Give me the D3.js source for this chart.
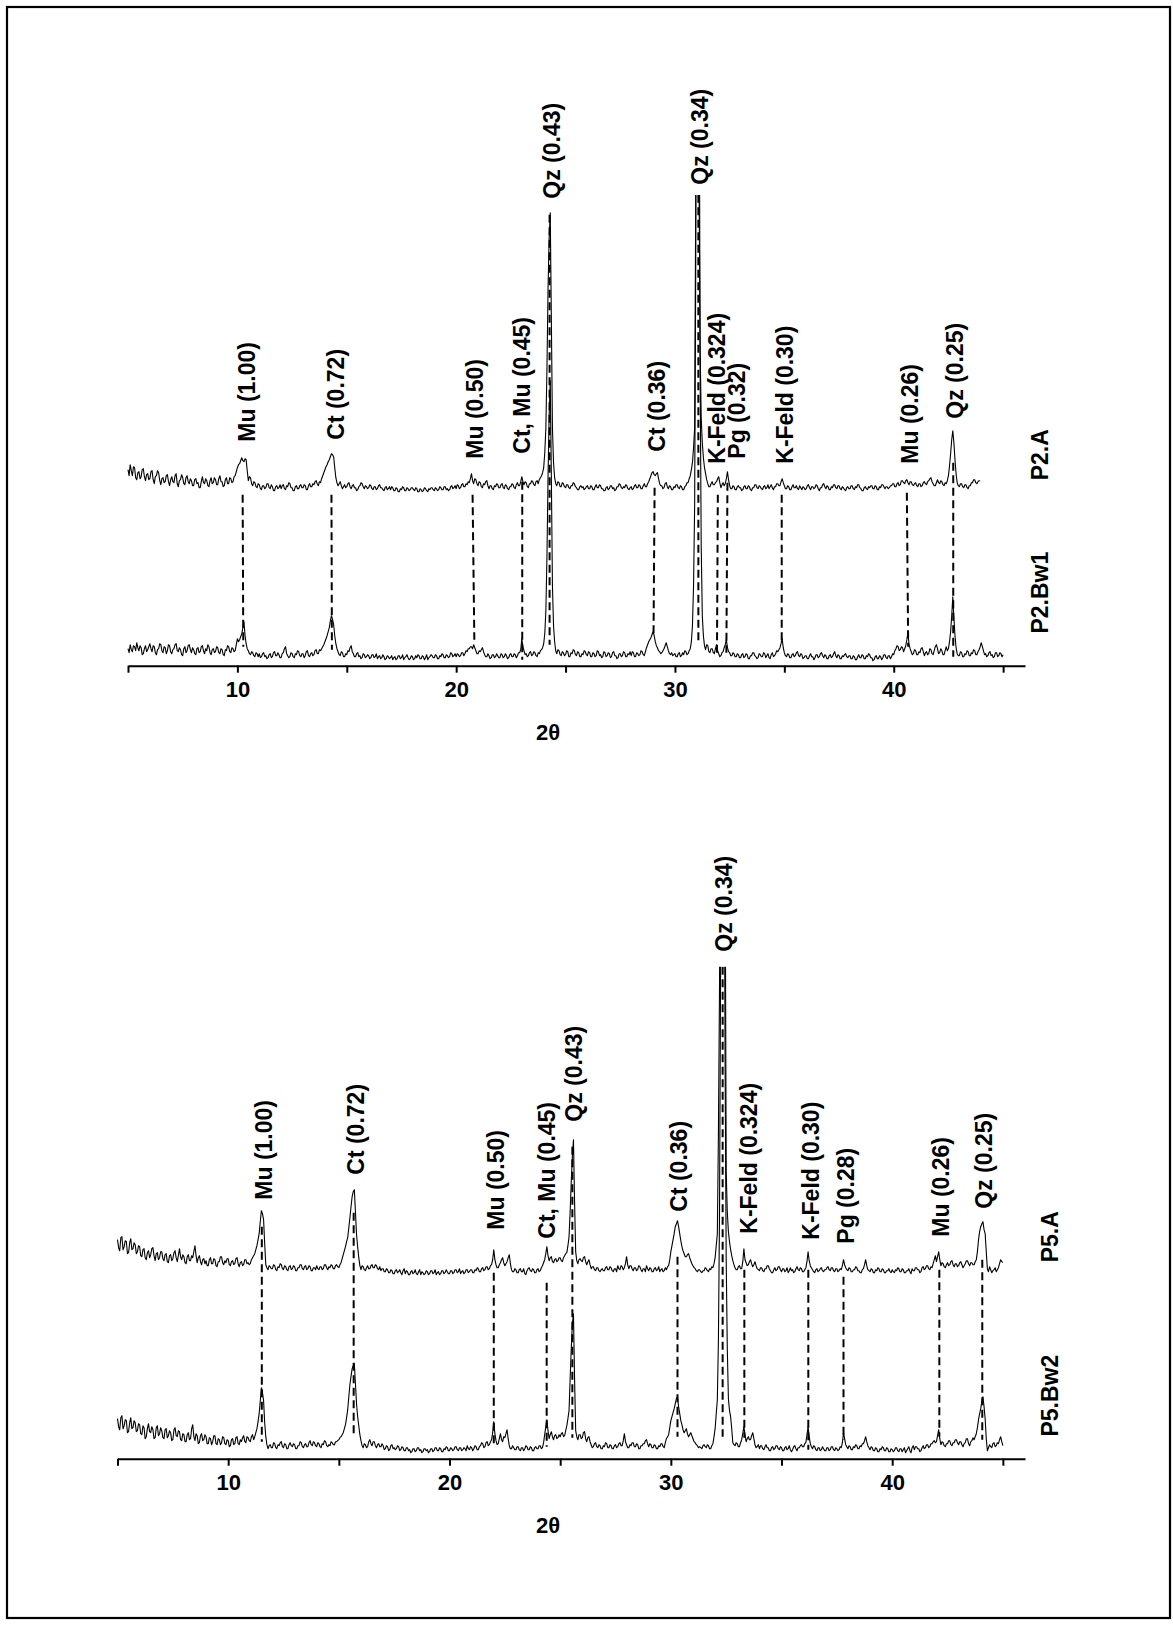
<!DOCTYPE html>
<html>
<head>
<meta charset="utf-8">
<script src="https://cdn.jsdelivr.net/npm/d3@7"></script>
<style>
  html, body { margin: 0; padding: 0; background: #fff; }
  svg text { font-family: "Liberation Sans", Arial, Helvetica, sans-serif; font-weight: bold; fill: #000; }
</style>
</head>
<body>
<svg id="chart" width="1173" height="1625"></svg>
<script>
// Diffractograms: each inner list covers one degree of 2θ (from 5°),
// sampled every 0.05°; the last single value sits on 45.0°.
const twoThetaStart = 5;

// Profile P2 – horizon A (5.00° … 43.95°)
const p2A = [
  [28, 22, 33, 27, 22, 31, 30, 20, 18, 25, 26, 19, 21, 28, 29, 21, 17, 23, 24, 18],
  [19, 26, 27, 18, 14, 21, 22, 27, 25, 17, 13, 19, 20, 15, 16, 22, 23, 16, 12, 18],
  [21, 16, 15, 22, 24, 14, 11, 17, 18, 23, 20, 14, 13, 20, 22, 16, 14, 19, 17, 12],
  [12, 18, 19, 14, 15, 10, 10, 16, 21, 15, 14, 19, 17, 12, 11, 17, 20, 14, 15, 20],
  [18, 13, 13, 19, 22, 16, 16, 11, 12, 18, 20, 14, 14, 20, 19, 15, 16, 21, 22, 26],
  [30, 33, 34, 37, 40, 37, 36, 39, 38, 27, 17, 21, 20, 14, 12, 16, 15, 11, 10, 14],
  [13, 9, 8, 12, 12, 9, 10, 14, 14, 10, 9, 13, 11, 7, 7, 11, 12, 9, 10, 13],
  [9, 12, 13, 9, 8, 12, 11, 15, 14, 10, 10, 7, 7, 11, 12, 9, 9, 12, 13, 10],
  [10, 13, 12, 8, 8, 12, 14, 11, 11, 14, 13, 16, 17, 14, 12, 16, 15, 19, 22, 25],
  [28, 31, 33, 36, 38, 41, 44, 43, 41, 30, 20, 15, 12, 14, 16, 12, 9, 11, 13, 10],
  [11, 14, 15, 11, 9, 12, 13, 10, 10, 7, 8, 11, 12, 15, 14, 11, 9, 12, 11, 9],
  [10, 13, 12, 9, 8, 11, 11, 8, 9, 12, 13, 10, 10, 8, 7, 10, 11, 8, 9, 11],
  [8, 11, 10, 7, 7, 10, 9, 6, 6, 9, 8, 11, 10, 7, 7, 10, 9, 7, 8, 10],
  [10, 8, 7, 10, 9, 6, 6, 9, 8, 6, 7, 10, 9, 7, 6, 9, 8, 10, 10, 8],
  [7, 10, 9, 7, 8, 11, 10, 8, 8, 11, 11, 8, 9, 7, 8, 11, 12, 9, 10, 12],
  [9, 13, 12, 9, 10, 13, 14, 11, 11, 14, 13, 16, 15, 19, 24, 17, 14, 19, 18, 14],
  [12, 16, 15, 11, 10, 14, 13, 16, 17, 12, 9, 12, 12, 9, 8, 12, 11, 14, 13, 10],
  [10, 13, 14, 10, 9, 13, 12, 9, 8, 11, 11, 14, 13, 10, 9, 13, 15, 12, 12, 16],
  [21, 16, 13, 16, 15, 11, 10, 14, 14, 17, 16, 13, 12, 16, 17, 14, 18, 20, 22, 25],
  [30, 45, 70, 130, 210, 260, 285, 180, 70, 35, 20, 14, 12, 16, 15, 11, 11, 15, 14, 11],
  [10, 13, 13, 10, 9, 12, 12, 15, 14, 11, 10, 8, 8, 11, 12, 10, 11, 8, 9, 11],
  [12, 9, 9, 12, 11, 8, 8, 11, 13, 10, 10, 13, 12, 9, 9, 7, 7, 10, 11, 8],
  [9, 12, 12, 9, 10, 7, 8, 11, 11, 14, 13, 10, 9, 11, 10, 13, 12, 9, 8, 10],
  [11, 8, 9, 12, 13, 10, 10, 13, 12, 9, 9, 12, 14, 11, 11, 14, 16, 19, 22, 25],
  [26, 23, 22, 24, 25, 19, 14, 12, 12, 9, 10, 14, 15, 11, 9, 12, 11, 8, 8, 11],
  [10, 13, 13, 10, 9, 12, 11, 8, 8, 11, 12, 15, 15, 19, 22, 28, 35, 50, 70, 300],
  [900, 650, 320, 150, 80, 55, 40, 30, 24, 18, 14, 11, 11, 14, 16, 13, 13, 15, 16, 19],
  [21, 15, 10, 13, 15, 12, 14, 19, 26, 18, 12, 9, 9, 12, 11, 8, 8, 11, 12, 10],
  [10, 7, 8, 11, 12, 9, 9, 12, 11, 8, 7, 10, 10, 13, 13, 10, 9, 12, 11, 9],
  [8, 11, 12, 9, 10, 13, 9, 11, 13, 10, 8, 11, 11, 14, 14, 12, 12, 16, 19, 15],
  [12, 9, 9, 12, 11, 8, 8, 11, 13, 10, 10, 12, 9, 8, 12, 10, 8, 11, 10, 8],
  [9, 12, 13, 10, 8, 11, 11, 9, 10, 13, 12, 9, 7, 10, 10, 13, 14, 11, 9, 12],
  [11, 8, 8, 11, 10, 13, 13, 10, 9, 12, 12, 9, 8, 11, 10, 8, 7, 10, 11, 9],
  [9, 12, 12, 9, 8, 11, 10, 13, 13, 10, 9, 7, 7, 10, 11, 9, 8, 11, 10, 12],
  [12, 9, 9, 12, 11, 8, 8, 11, 10, 13, 13, 11, 9, 11, 11, 9, 10, 12, 12, 14],
  [14, 11, 11, 14, 15, 12, 13, 17, 17, 15, 14, 17, 18, 15, 13, 16, 16, 13, 12, 14],
  [15, 12, 11, 14, 14, 11, 12, 15, 16, 14, 13, 16, 17, 19, 20, 16, 14, 12, 12, 15],
  [18, 15, 14, 17, 16, 13, 12, 15, 14, 17, 22, 32, 44, 58, 67, 55, 38, 24, 15, 12],
  [11, 14, 14, 11, 10, 13, 13, 10, 9, 12, 12, 15, 15, 18, 18, 15, 14, 16, 17, 17]
];

// Profile P2 – horizon Bw1 (5.00° … 45.00°)
const p2Bw1 = [
  [17, 13, 21, 16, 14, 20, 19, 15, 23, 18, 15, 20, 18, 11, 12, 17, 20, 14, 16, 19],
  [22, 17, 14, 20, 19, 13, 11, 16, 17, 22, 21, 15, 13, 19, 18, 12, 15, 21, 20, 14],
  [12, 16, 17, 21, 22, 15, 14, 18, 16, 11, 10, 17, 19, 13, 15, 20, 21, 16, 13, 18],
  [16, 12, 11, 17, 18, 13, 14, 19, 20, 15, 12, 17, 15, 21, 19, 13, 11, 16, 17, 13],
  [14, 19, 18, 13, 12, 17, 16, 11, 10, 16, 15, 20, 19, 14, 13, 18, 17, 14, 15, 21],
  [27, 24, 26, 29, 32, 38, 44, 30, 22, 17, 15, 12, 11, 14, 13, 10, 9, 13, 12, 9],
  [12, 8, 9, 12, 13, 9, 10, 7, 8, 11, 12, 8, 9, 13, 14, 10, 10, 13, 11, 8],
  [8, 12, 13, 17, 19, 12, 10, 8, 9, 13, 12, 9, 8, 12, 11, 15, 14, 10, 9, 12],
  [12, 8, 10, 14, 15, 10, 9, 12, 13, 10, 11, 15, 16, 12, 12, 16, 15, 17, 19, 21],
  [24, 27, 30, 34, 38, 45, 50, 46, 41, 30, 22, 17, 14, 11, 10, 14, 13, 9, 9, 12],
  [11, 15, 14, 18, 20, 14, 12, 9, 9, 12, 13, 9, 10, 7, 8, 12, 11, 8, 9, 11],
  [10, 7, 8, 11, 11, 8, 9, 12, 7, 9, 10, 7, 8, 11, 9, 6, 7, 10, 9, 7],
  [8, 10, 6, 8, 9, 6, 7, 10, 10, 7, 8, 11, 6, 8, 9, 11, 8, 6, 7, 10],
  [9, 6, 7, 10, 8, 11, 10, 7, 7, 10, 9, 6, 8, 11, 6, 8, 9, 11, 10, 8],
  [8, 11, 10, 7, 7, 10, 9, 12, 11, 8, 8, 11, 10, 8, 9, 13, 12, 9, 10, 12],
  [9, 12, 11, 9, 10, 13, 13, 10, 12, 15, 14, 17, 17, 19, 19, 17, 21, 18, 15, 12],
  [12, 15, 14, 16, 18, 14, 11, 9, 9, 12, 10, 7, 8, 11, 11, 8, 9, 12, 10, 8],
  [8, 12, 11, 8, 9, 12, 10, 7, 8, 11, 12, 9, 9, 12, 11, 8, 10, 13, 13, 16],
  [27, 19, 15, 11, 12, 9, 10, 13, 14, 10, 11, 14, 13, 10, 9, 13, 12, 15, 16, 18],
  [22, 32, 55, 110, 190, 250, 285, 190, 80, 40, 24, 15, 12, 16, 15, 11, 10, 14, 13, 10],
  [11, 15, 14, 9, 9, 13, 12, 16, 15, 11, 10, 14, 13, 9, 9, 12, 11, 15, 14, 11],
  [10, 14, 13, 9, 9, 13, 12, 9, 10, 15, 14, 10, 11, 8, 9, 14, 13, 9, 10, 13],
  [12, 8, 9, 13, 14, 10, 10, 7, 8, 12, 12, 9, 10, 14, 13, 9, 9, 12, 11, 14],
  [10, 14, 13, 9, 9, 13, 12, 10, 11, 15, 14, 11, 10, 14, 18, 21, 24, 26, 28, 31],
  [34, 30, 24, 20, 18, 15, 14, 12, 13, 15, 17, 20, 23, 19, 15, 12, 11, 13, 10, 11],
  [12, 9, 9, 12, 13, 9, 10, 13, 11, 15, 14, 11, 12, 15, 17, 24, 40, 80, 160, 400],
  [900, 850, 700, 300, 120, 50, 30, 20, 16, 21, 20, 14, 13, 17, 17, 13, 12, 17, 21, 15],
  [12, 9, 10, 13, 14, 18, 21, 26, 18, 14, 13, 10, 10, 13, 12, 9, 9, 12, 11, 8],
  [8, 11, 12, 8, 9, 12, 11, 7, 7, 10, 10, 13, 13, 10, 9, 7, 8, 12, 11, 9],
  [9, 13, 12, 8, 10, 12, 8, 7, 11, 13, 9, 10, 12, 15, 14, 16, 18, 22, 27, 18],
  [13, 10, 9, 12, 11, 8, 8, 11, 12, 9, 10, 13, 14, 10, 9, 12, 11, 7, 8, 10],
  [10, 7, 7, 10, 12, 9, 9, 6, 8, 11, 11, 8, 9, 12, 13, 10, 8, 11, 10, 7],
  [7, 10, 11, 8, 9, 12, 14, 10, 8, 11, 10, 7, 7, 10, 9, 11, 12, 9, 8, 10],
  [10, 7, 7, 10, 9, 6, 6, 9, 11, 8, 8, 11, 10, 7, 7, 10, 9, 12, 11, 8],
  [8, 5, 6, 9, 10, 7, 7, 10, 9, 6, 8, 11, 11, 8, 7, 10, 10, 7, 9, 12],
  [11, 15, 17, 20, 19, 15, 16, 19, 18, 14, 17, 20, 26, 33, 21, 17, 14, 11, 12, 16],
  [15, 11, 11, 14, 13, 17, 18, 14, 10, 13, 14, 11, 12, 17, 16, 12, 11, 15, 19, 21],
  [17, 12, 13, 17, 15, 11, 11, 15, 19, 15, 17, 24, 34, 50, 69, 48, 30, 18, 12, 10],
  [10, 14, 13, 9, 9, 12, 11, 15, 14, 10, 10, 13, 12, 16, 15, 11, 11, 14, 16, 19],
  [23, 19, 15, 11, 12, 9, 10, 13, 14, 10, 11, 8, 9, 13, 13, 9, 10, 13, 12, 9],
  [11]
];

// Profile P5 – horizon A (5.00° … 45.00°)
const p5A = [
  [42, 34, 31, 44, 45, 32, 35, 41, 40, 28, 29, 39, 43, 32, 33, 39, 37, 28, 30, 36],
  [35, 26, 25, 32, 33, 24, 22, 29, 31, 24, 27, 33, 34, 26, 21, 28, 29, 22, 24, 30],
  [30, 23, 21, 27, 28, 20, 19, 26, 27, 21, 23, 29, 31, 24, 20, 26, 33, 25, 22, 27],
  [25, 19, 18, 25, 27, 21, 21, 26, 24, 30, 36, 26, 19, 24, 26, 20, 17, 22, 23, 18],
  [21, 16, 16, 22, 24, 18, 18, 23, 22, 16, 15, 20, 20, 25, 25, 19, 17, 21, 19, 23],
  [23, 17, 16, 20, 21, 17, 18, 23, 24, 18, 15, 19, 20, 16, 17, 22, 22, 18, 19, 17],
  [18, 22, 24, 26, 28, 32, 36, 42, 48, 60, 71, 68, 62, 38, 17, 14, 12, 16, 15, 13],
  [13, 17, 16, 12, 11, 15, 14, 18, 17, 13, 12, 16, 15, 12, 11, 15, 16, 12, 13, 16],
  [15, 11, 11, 14, 14, 17, 17, 13, 12, 15, 16, 12, 13, 16, 15, 11, 11, 14, 14, 12],
  [16, 13, 12, 15, 15, 12, 13, 17, 17, 14, 12, 15, 14, 17, 16, 13, 13, 16, 17, 15],
  [14, 17, 19, 23, 27, 31, 35, 40, 44, 54, 64, 75, 85, 90, 92, 70, 47, 35, 24, 16],
  [12, 16, 15, 12, 11, 14, 16, 13, 13, 16, 17, 14, 14, 17, 16, 13, 12, 15, 11, 13],
  [13, 10, 10, 13, 12, 9, 9, 12, 11, 8, 8, 11, 12, 9, 10, 12, 9, 7, 11, 13],
  [8, 11, 10, 7, 7, 10, 11, 8, 9, 12, 8, 7, 10, 12, 7, 10, 9, 7, 8, 11],
  [10, 7, 8, 11, 11, 8, 9, 12, 7, 9, 10, 7, 8, 11, 11, 8, 9, 12, 10, 8],
  [8, 11, 11, 8, 9, 12, 12, 9, 10, 13, 8, 10, 11, 8, 9, 12, 12, 9, 10, 12],
  [12, 9, 9, 12, 11, 14, 13, 10, 10, 13, 14, 11, 12, 15, 15, 12, 13, 16, 17, 22],
  [32, 22, 17, 14, 14, 17, 19, 22, 24, 19, 16, 18, 20, 24, 27, 18, 12, 10, 10, 13],
  [12, 9, 9, 12, 13, 10, 10, 13, 8, 7, 11, 13, 14, 11, 10, 13, 12, 9, 9, 12],
  [13, 10, 11, 14, 16, 19, 22, 28, 35, 26, 21, 24, 25, 20, 19, 22, 23, 20, 21, 24],
  [24, 21, 20, 24, 26, 28, 29, 36, 45, 70, 100, 125, 142, 80, 30, 21, 18, 22, 23, 21],
  [20, 24, 25, 20, 17, 20, 22, 17, 13, 15, 15, 12, 11, 14, 14, 11, 10, 12, 13, 11],
  [11, 14, 15, 12, 12, 15, 14, 11, 10, 13, 13, 10, 16, 13, 12, 16, 15, 12, 14, 18],
  [25, 17, 13, 16, 16, 13, 11, 14, 14, 11, 12, 16, 15, 12, 10, 13, 13, 10, 16, 13],
  [11, 14, 13, 10, 10, 13, 14, 11, 12, 15, 10, 12, 13, 10, 11, 14, 12, 15, 16, 22],
  [30, 36, 42, 48, 55, 58, 61, 55, 48, 41, 35, 31, 28, 25, 25, 27, 28, 24, 21, 18],
  [16, 14, 13, 11, 10, 12, 12, 10, 9, 11, 11, 14, 13, 11, 10, 13, 12, 15, 14, 18],
  [24, 36, 48, 150, 300, 600, 900, 880, 800, 450, 110, 70, 50, 40, 32, 26, 21, 17, 14, 12],
  [12, 15, 16, 13, 13, 20, 33, 22, 19, 16, 17, 20, 22, 18, 15, 17, 20, 16, 13, 12],
  [11, 14, 14, 11, 10, 13, 13, 16, 16, 13, 11, 9, 9, 12, 14, 11, 12, 15, 15, 12],
  [10, 13, 13, 10, 11, 14, 9, 11, 14, 11, 12, 9, 10, 13, 15, 12, 11, 14, 13, 10],
  [10, 12, 14, 20, 30, 21, 16, 14, 12, 10, 9, 12, 13, 10, 11, 13, 14, 11, 10, 12],
  [12, 14, 15, 12, 11, 14, 14, 11, 10, 13, 13, 10, 11, 13, 12, 16, 22, 17, 14, 12],
  [11, 14, 13, 10, 10, 12, 12, 15, 14, 11, 11, 9, 9, 12, 13, 17, 22, 16, 12, 11],
  [10, 13, 12, 9, 9, 12, 11, 14, 13, 10, 10, 13, 12, 9, 9, 11, 11, 13, 10, 9],
  [12, 10, 9, 12, 11, 14, 13, 10, 10, 13, 12, 9, 9, 11, 11, 13, 10, 8, 13, 11],
  [11, 14, 14, 12, 12, 9, 10, 14, 15, 12, 13, 16, 16, 13, 12, 15, 14, 18, 22, 26],
  [20, 25, 30, 22, 16, 19, 18, 15, 14, 17, 19, 16, 17, 20, 21, 17, 15, 18, 18, 15],
  [16, 19, 20, 17, 14, 16, 18, 21, 21, 18, 16, 19, 19, 17, 17, 20, 22, 30, 42, 50],
  [55, 58, 60, 52, 48, 30, 13, 10, 15, 12, 9, 11, 12, 14, 10, 12, 14, 18, 22, 20],
  [19]
];

// Profile P5 – horizon Bw2 (5.00° … 45.00°)
const p5Bw2 = [
  [40, 32, 29, 41, 43, 30, 33, 39, 38, 26, 27, 36, 41, 30, 31, 38, 36, 27, 28, 35],
  [34, 25, 24, 33, 31, 20, 22, 30, 35, 27, 26, 32, 29, 20, 21, 31, 33, 23, 25, 31],
  [28, 21, 20, 29, 30, 21, 23, 28, 26, 18, 19, 29, 31, 23, 22, 28, 27, 19, 18, 25],
  [24, 17, 17, 24, 26, 19, 20, 30, 34, 22, 18, 25, 23, 15, 16, 23, 25, 18, 19, 24],
  [22, 15, 15, 21, 20, 14, 17, 23, 23, 15, 14, 20, 19, 14, 16, 22, 21, 15, 14, 19],
  [18, 12, 13, 19, 20, 14, 15, 21, 22, 15, 14, 19, 17, 21, 23, 17, 16, 22, 21, 18],
  [17, 22, 24, 19, 22, 26, 30, 37, 45, 58, 71, 66, 58, 36, 22, 14, 10, 13, 14, 11],
  [11, 16, 15, 11, 10, 14, 13, 16, 17, 12, 11, 15, 14, 10, 10, 14, 16, 13, 12, 15],
  [14, 10, 10, 13, 13, 17, 16, 12, 11, 14, 15, 12, 12, 16, 18, 14, 13, 17, 16, 13],
  [12, 16, 15, 12, 11, 15, 14, 18, 17, 13, 12, 14, 13, 17, 16, 14, 14, 17, 17, 18],
  [19, 21, 22, 24, 26, 30, 34, 41, 49, 62, 74, 82, 90, 93, 95, 75, 55, 42, 33, 24],
  [18, 13, 11, 15, 14, 11, 12, 17, 19, 15, 13, 17, 17, 13, 11, 14, 15, 12, 12, 15],
  [13, 9, 10, 13, 12, 8, 9, 13, 14, 10, 11, 9, 10, 13, 12, 8, 9, 12, 11, 8],
  [8, 11, 11, 8, 9, 6, 7, 10, 10, 7, 8, 11, 11, 8, 9, 6, 7, 10, 10, 8],
  [9, 6, 7, 10, 10, 7, 8, 11, 11, 8, 8, 11, 10, 7, 7, 10, 9, 12, 11, 8],
  [8, 11, 10, 8, 9, 12, 12, 9, 8, 11, 11, 8, 9, 11, 10, 8, 13, 10, 9, 12],
  [11, 8, 10, 13, 12, 9, 9, 12, 13, 16, 15, 11, 12, 16, 17, 13, 14, 17, 19, 26],
  [37, 25, 18, 14, 15, 20, 25, 19, 17, 22, 21, 25, 29, 20, 13, 10, 10, 13, 11, 9],
  [9, 12, 12, 9, 8, 11, 11, 8, 10, 13, 12, 9, 9, 12, 11, 8, 8, 11, 12, 10],
  [10, 13, 13, 10, 11, 16, 24, 32, 39, 28, 20, 24, 27, 22, 19, 23, 24, 20, 21, 24],
  [22, 25, 26, 22, 23, 28, 33, 40, 48, 80, 110, 135, 145, 80, 28, 22, 19, 24, 24, 20],
  [21, 26, 27, 20, 17, 21, 22, 17, 14, 11, 12, 15, 16, 12, 11, 14, 13, 10, 10, 13],
  [12, 16, 15, 11, 11, 14, 13, 10, 10, 13, 14, 11, 12, 15, 16, 13, 13, 18, 25, 17],
  [14, 11, 11, 14, 13, 16, 16, 12, 12, 15, 14, 10, 10, 13, 13, 15, 15, 18, 19, 15],
  [12, 15, 14, 11, 11, 14, 13, 10, 10, 13, 12, 15, 15, 12, 11, 16, 20, 22, 24, 31],
  [38, 42, 46, 50, 55, 60, 62, 52, 45, 38, 34, 29, 26, 28, 30, 25, 22, 24, 26, 23],
  [20, 17, 16, 14, 13, 11, 12, 11, 10, 13, 14, 12, 11, 14, 13, 10, 10, 13, 15, 22],
  [30, 45, 59, 120, 250, 500, 900, 850, 700, 400, 200, 110, 60, 48, 42, 30, 16, 14, 13, 16],
  [15, 12, 12, 16, 19, 25, 32, 24, 17, 20, 22, 19, 19, 23, 26, 20, 14, 11, 12, 14],
  [10, 13, 13, 10, 9, 12, 14, 11, 11, 8, 8, 11, 12, 9, 10, 13, 13, 10, 9, 12],
  [11, 8, 8, 11, 12, 9, 10, 13, 9, 7, 9, 12, 13, 10, 8, 11, 11, 13, 14, 12],
  [12, 15, 16, 24, 32, 22, 15, 12, 10, 13, 12, 9, 8, 11, 11, 8, 9, 12, 10, 8],
  [8, 11, 11, 8, 9, 12, 12, 9, 8, 11, 10, 8, 9, 12, 11, 16, 26, 20, 14, 12],
  [10, 13, 12, 9, 9, 12, 11, 14, 13, 10, 10, 13, 12, 15, 15, 18, 22, 17, 13, 11],
  [9, 12, 11, 8, 8, 11, 10, 7, 7, 10, 9, 12, 11, 8, 8, 11, 10, 7, 7, 10],
  [9, 7, 8, 11, 11, 8, 7, 10, 10, 7, 9, 11, 6, 8, 10, 12, 8, 6, 11, 13],
  [9, 12, 12, 10, 10, 7, 8, 11, 13, 10, 11, 14, 14, 11, 12, 15, 15, 17, 18, 16],
  [17, 23, 29, 20, 14, 17, 16, 13, 12, 15, 15, 18, 18, 14, 13, 16, 16, 19, 19, 16],
  [14, 17, 17, 14, 12, 15, 16, 20, 20, 15, 13, 17, 18, 21, 19, 22, 25, 31, 39, 45],
  [50, 57, 62, 52, 40, 20, 8, 11, 14, 12, 11, 15, 16, 12, 13, 16, 15, 19, 22, 17],
  [13]
];

// Vertical stacking offsets of the upper pattern in each panel (intensity units)
const p2AOffset = 168;
const p5AOffset = 177;

// Axis
const xDomain = [5, 46];
const xTicks = [5, 10, 15, 20, 25, 30, 35, 40, 45];
const xTitle = "2θ";

// Reflections, panel P2: label, 2θ on the upper / lower pattern,
// extent of the guide line and the intensity where each label starts
const p2PeakLabels = ["Mu (1.00)", "Ct (0.72)", "Mu (0.50)", "Ct, Mu (0.45)", "Qz (0.43)", "Ct (0.36)",
                      "Qz (0.34)", "K-Feld (0.324)", "Pg (0.32)", "K-Feld (0.30)", "Mu (0.26)", "Qz (0.25)"];
const p2PeakUpper = [10.24, 14.30, 20.75, 23.02, 24.27, 29.07, 31.07, 31.96, 32.40, 34.88, 40.60, 42.72];
const p2PeakLower = [10.27, 14.32, 20.83, 23.02, 24.27, 29.02, 31.07, 31.92, 32.35, 34.88, 40.66, 42.72];
const p2GuideFrom = [171, 171, 171, 184, 451, 178, 471, 171, 183, 171, 173, 203];
const p2GuideTo   = [19, 16, 26, 6, 21, 29, 21, 9, 13, 23, 19, 9];
const p2LabelAt   = [10.43, 14.50, 20.87, 23.00, 24.37, 29.17, 31.15, 31.92, 32.83, 35.04, 40.76, 42.81];
const p2LabelBase = [224, 226, 207, 212, 467, 214, 481, 202, 207, 202, 202, 247];

// Reflections, panel P5
const p5PeakLabels = ["Mu (1.00)", "Ct (0.72)", "Mu (0.50)", "Ct, Mu (0.45)", "Qz (0.43)", "Ct (0.36)",
                      "Qz (0.34)", "K-Feld (0.324)", "K-Feld (0.30)", "Pg (0.28)", "Mu (0.26)", "Qz (0.25)"];
const p5PeakUpper = [11.52, 15.67, 22.00, 24.39, 25.55, 30.30, 32.34, 33.32, 36.21, 37.80, 42.13, 44.07];
const p5PeakLower = [11.52, 15.67, 22.00, 24.39, 25.55, 30.30, 32.34, 33.32, 36.21, 37.80, 42.13, 44.07];
const p5GuideFrom = [232, 246, 186, 176, 312, 202, 492, 189, 189, 182, 189, 199];
const p5GuideTo   = [17, 22, 12, 12, 21, 22, 22, 21, 9, 19, 22, 19];
const p5LabelAt   = [11.60, 15.75, 22.08, 24.42, 25.60, 30.38, 32.40, 33.54, 36.33, 37.92, 42.22, 44.13];
const p5LabelBase = [259, 284, 229, 220, 337, 247, 507, 225, 219, 215, 222, 250];

// Sample names and the intensity at which each is centred
const p2Samples = ["P2.A", "P2.Bw1"];
const p2SampleAt = [211, 73];
const p5Samples = ["P5.A", "P5.Bw2"];
const p5SampleAt = [222, 63];

const FONT = '"Liberation Sans", Arial, Helvetica, sans-serif';
const W = 1173, H = 1625;
const svg = d3.select("#chart");

// page frame
svg.append("rect")
  .attr("x", 7).attr("y", 7)
  .attr("width", 1163).attr("height", 1611)
  .attr("fill", "none").attr("stroke", "#000").attr("stroke-width", 2.2);

// flatten one degree-per-row pattern into [2θ, intensity] points
function toPoints(rows) {
  return rows.flatMap((row, r) => row.map((v, j) => [twoThetaStart + r + j / row.length, v]));
}

const panels = [
  {
    id: "p2", left: 128, right: 1025, axisY: 665.7, topY: 195, yMax: 470.7,
    traces: [{ rows: p2A, offset: p2AOffset }, { rows: p2Bw1, offset: 0 }],
    labels: p2PeakLabels, upper: p2PeakUpper, lower: p2PeakLower,
    guideFrom: p2GuideFrom, guideTo: p2GuideTo, labelAt: p2LabelAt, labelBase: p2LabelBase,
    samples: p2Samples, sampleAt: p2SampleAt, sampleX: 1040, titleX: 548, titleDy: 74.3
  },
  {
    id: "p5", left: 117.5, right: 1025, axisY: 1458.7, topY: 966.7, yMax: 492,
    traces: [{ rows: p5A, offset: p5AOffset }, { rows: p5Bw2, offset: 0 }],
    labels: p5PeakLabels, upper: p5PeakUpper, lower: p5PeakLower,
    guideFrom: p5GuideFrom, guideTo: p5GuideTo, labelAt: p5LabelAt, labelBase: p5LabelBase,
    samples: p5Samples, sampleAt: p5SampleAt, sampleX: 1050, titleX: 548, titleDy: 74.3
  }
];

panels.forEach(p => {
  const x = d3.scaleLinear().domain(xDomain).range([p.left, p.right]);
  const y = d3.scaleLinear().domain([0, p.yMax]).range([p.axisY, p.topY]);
  const g = svg.append("g").attr("class", "panel-" + p.id);

  const clipId = "clip-" + p.id;
  g.append("clipPath").attr("id", clipId)
    .append("rect")
    .attr("x", 0).attr("y", p.topY)
    .attr("width", W).attr("height", p.axisY - p.topY + 4);

  // bottom axis
  const axis = d3.axisBottom(x)
    .tickValues(xTicks)
    .tickFormat(d => (d % 10 === 0 ? d : ""))
    .tickSize(7).tickSizeOuter(0).tickPadding(9);
  const ag = g.append("g")
    .attr("transform", `translate(0,${p.axisY})`)
    .call(axis)
    .attr("font-family", FONT).attr("font-size", 22);
  ag.select(".domain").attr("stroke", "#000").attr("stroke-width", 2);
  ag.selectAll(".tick line").attr("stroke", "#000").attr("stroke-width", 2);
  ag.selectAll(".tick text").attr("font-size", 22).attr("font-weight", "bold");

  g.append("text")
    .attr("x", p.titleX).attr("y", p.axisY + p.titleDy)
    .attr("text-anchor", "middle")
    .attr("font-size", 22)
    .text(xTitle);

  // diffraction patterns
  const traceG = g.append("g").attr("clip-path", `url(#${clipId})`);
  p.traces.forEach(t => {
    const line = d3.line()
      .x(d => x(d[0]))
      .y(d => y(d[1] + t.offset));
    traceG.append("path")
      .datum(toPoints(t.rows))
      .attr("d", line)
      .attr("fill", "none")
      .attr("stroke", "#000")
      .attr("stroke-width", 1.1)
      .attr("stroke-linejoin", "round");
  });

  // dashed guides linking the same reflection in both patterns
  const guides = p.labels.map((lab, i) => ({
    x1: p.upper[i], y1: p.guideFrom[i], x2: p.lower[i], y2: p.guideTo[i]
  }));
  g.append("g").attr("clip-path", `url(#${clipId})`)
    .selectAll("line").data(guides).join("line")
    .attr("x1", d => x(d.x1)).attr("y1", d => y(d.y1))
    .attr("x2", d => x(d.x2)).attr("y2", d => y(d.y2))
    .attr("stroke", "#000").attr("stroke-width", 2)
    .attr("stroke-dasharray", "8,4.5");

  // reflection labels
  g.append("g").selectAll("text").data(p.labels).join("text")
    .attr("transform", (d, i) => `translate(${x(p.labelAt[i])},${y(p.labelBase[i])}) rotate(-90)`)
    .attr("dy", "0.35em")
    .attr("text-anchor", "start")
    .attr("font-size", 23)
    .text(d => d);

  // sample names
  g.append("g").selectAll("text").data(p.samples).join("text")
    .attr("transform", (d, i) => `translate(${p.sampleX},${y(p.sampleAt[i])}) rotate(-90)`)
    .attr("dy", "0.35em")
    .attr("text-anchor", "middle")
    .attr("font-size", 23)
    .text(d => d);
});
</script>
</body>
</html>
